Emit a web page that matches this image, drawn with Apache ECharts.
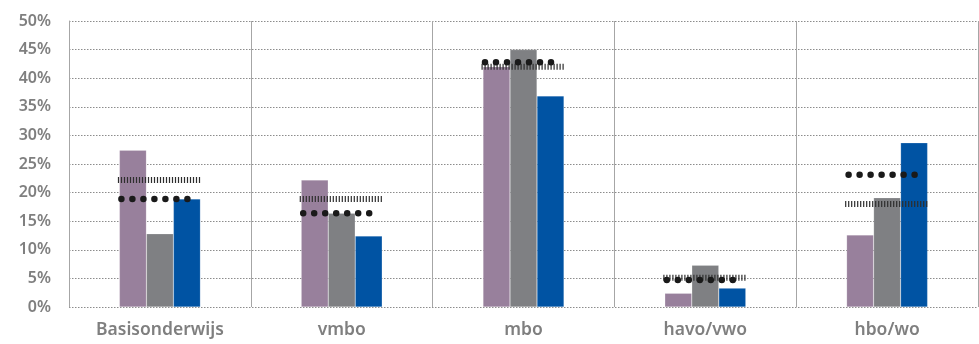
<!DOCTYPE html>
<html>
<head>
<meta charset="utf-8">
<script src="https://cdn.jsdelivr.net/npm/echarts@6/dist/echarts.min.js"></script>
<style>
	html, body { margin: 0; padding: 0; background: #fff; }
	#chart { width: 979px; height: 344px; }
</style>
</head>
<body>
<div id="chart"></div>
<script>
	'use strict'
	var categories = ['Basisonderwijs', 'vmbo', 'mbo', 'havo/vwo', 'hbo/wo'];
	// three bar series (percentages)
	var purpleValues = [27.4, 22.2, 42.0, 2.4, 12.6];
	var greyValues = [12.8, 16.4, 45.0, 7.3, 19.1];
	var blueValues = [18.9, 12.4, 36.9, 3.3, 28.7];
	// reference markers
	var hatchValues = [22.2, 18.9, 42.0, 5.1, 18.0];
	var dotValues = [18.9, 16.4, 42.8, 4.7, 23.1];
	var yTicks = [0, 5, 10, 15, 20, 25, 30, 35, 40, 45, 50];

	function markerSeries(values, halfWidth, style) {
		return {
			type: 'custom',
			z: 10,
			data: values.map(function(v, i) { return [i, v]; }),
			renderItem: function(params, api) {
				var p = api.coord([api.value(0), api.value(1)]);
				return {
					type: 'line',
					shape: { x1: p[0] - halfWidth, y1: p[1], x2: p[0] + halfWidth, y2: p[1] },
					style: style
				};
			}
		};
	}

	var chart = echarts.init(document.getElementById('chart'));
	var barStyle = function(color) {
		return {
			type: 'bar',
			barWidth: 27,
			barGap: '0%',
			itemStyle: { color: color, borderColor: 'rgba(255,255,255,0.35)', borderWidth: 0.5 }
		};
	};
	var s1 = barStyle('#98809c'); s1.data = purpleValues;
	var s2 = barStyle('#7f8083'); s2.data = greyValues;
	var s3 = barStyle('#0053a3'); s3.data = blueValues;

	chart.setOption({
		animation: false,
		grid: { left: 69, right: 1, top: 21, bottom: 37 },
		xAxis: {
			type: 'category',
			data: categories,
			axisLine: { show: false },
			axisTick: { show: false },
			axisLabel: {
				margin: 14,
				fontSize: 17.5,
				fontWeight: 600,
				color: '#7f7f7f',
				fontFamily: 'Noto Sans'
			},
			splitLine: { show: true, lineStyle: { color: '#a6a6a6', width: 1, type: 'solid' } }
		},
		yAxis: {
			type: 'value',
			min: yTicks[0],
			max: yTicks[yTicks.length - 1],
			interval: 5,
			axisLine: { show: true, lineStyle: { color: '#a6a6a6' } },
			axisTick: { show: false },
			axisLabel: {
				margin: 18,
				fontSize: 16,
				fontWeight: 600,
				color: '#7f7f7f',
				fontFamily: 'Noto Sans',
				formatter: '{value}%'
			},
			splitLine: { lineStyle: { color: '#8c8c8c', width: 1, type: [1.5, 1.5] } }
		},
		series: [
			s1, s2, s3,
			markerSeries(hatchValues, 42, { stroke: '#2e2e2e', lineWidth: 6, lineDash: [1.2, 1.8] }),
			markerSeries(dotValues, 38.5, { stroke: '#1a1a1a', lineWidth: 6.5, lineCap: 'round', lineDash: [0, 11] })
		]
	});
</script>
</body>
</html>
